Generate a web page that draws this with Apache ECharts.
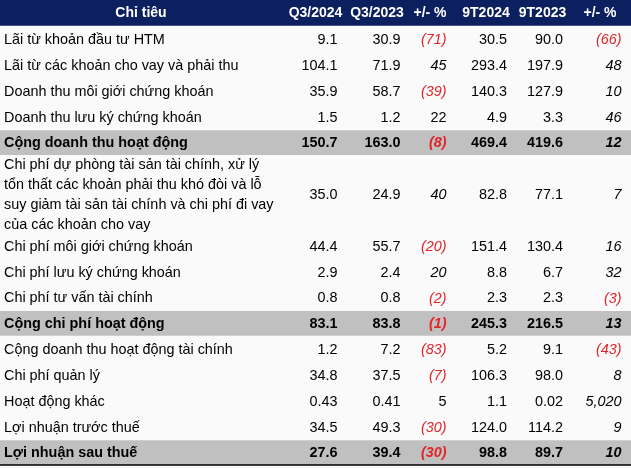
<!DOCTYPE html>
<html><head><meta charset="utf-8">
<script src="https://cdn.jsdelivr.net/npm/echarts@6/dist/echarts.min.js"></script>
<style>html,body{margin:0;padding:0;background:#fafafa}#c{width:631px;height:468px}</style>
</head><body><div id="c"></div>
<script>
// ---- data ----
const headers = ["Chỉ tiêu", "Q3/2024", "Q3/2023", "+/- %", "9T2024", "9T2023", "+/- %"];
const labels = [
  "Lãi từ khoản đầu tư HTM",
  "Lãi từ các khoản cho vay và phải thu",
  "Doanh thu môi giới chứng khoán",
  "Doanh thu lưu ký chứng khoán",
  "Cộng doanh thu hoạt động",
  "Chi phí dự phòng tài sản tài chính, xử lý\ntổn thất các khoản phải thu khó đòi và lỗ\nsuy giảm tài sản tài chính và chi phí đi vay\ncủa các khoản cho vay",
  "Chi phí môi giới chứng khoán",
  "Chi phí lưu ký chứng khoán",
  "Chi phí tư vấn tài chính",
  "Cộng chi phí hoạt động",
  "Cộng doanh thu hoạt động tài chính",
  "Chi phí quản lý",
  "Hoạt động khác",
  "Lợi nhuận trước thuế",
  "Lợi nhuận sau thuế"
];
const q3_2024 = [9.1, 104.1, 35.9, 1.5, 150.7, 35.0, 44.4, 2.9, 0.8, 83.1, 1.2, 34.8, 0.43, 34.5, 27.6];
const q3_2023 = [30.9, 71.9, 58.7, 1.2, 163.0, 24.9, 55.7, 2.4, 0.8, 83.8, 7.2, 37.5, 0.41, 49.3, 39.4];
const pctQ3   = [-71, 45, -39, 22, -8, 40, -20, 20, -2, -1, -83, -7, 5, -30, -30];
const t9_2024 = [30.5, 293.4, 140.3, 4.9, 469.4, 82.8, 151.4, 8.8, 2.3, 245.3, 5.2, 106.3, 1.1, 124.0, 98.8];
const t9_2023 = [90.0, 197.9, 127.9, 3.3, 419.6, 77.1, 130.4, 6.7, 2.3, 216.5, 9.1, 98.0, 0.02, 114.2, 89.7];
const pct9T   = [-66, 48, 10, 46, 12, 7, 16, 32, -3, 13, -43, 8, 5020, 9, 10];
const rowSpans = [1, 1, 1, 1, 1, 3, 1, 1, 1, 1, 1, 1, 1, 1, 1];
const boldRows = [4, 9, 14];
const uprightPct = {"3-2": true, "12-2": true}; // row-col cells printed upright

// ---- layout ----
const W = 631;
const FONT = "'Liberation Sans', Arial, sans-serif";
const headerCenters = [141, 315.5, 377, 430, 486, 542.5, 600];
const valueRights = [337.5, 400.5, 446.5, 507, 563, 621.5];
const textLeft = 4;
const TEXT_SHIFT = 0.055; // row units

function fmtNum(v) {
  const t = v * 10;
  return Math.abs(t - Math.round(t)) < 1e-9 ? v.toFixed(1) : v.toFixed(2);
}
function fmtPct(v) {
  const s = Math.abs(v).toLocaleString('en-US');
  return v < 0 ? "(" + s + ")" : s;
}

const rowStarts = [];
let u = 1;
rowSpans.forEach(s => { rowStarts.push(u); u += s; });
const totalUnits = u;

const bands = [[0, 1, 'header']];
boldRows.forEach(r => bands.push([rowStarts[r], rowSpans[r], 'total']));

const cells = [];
headers.forEach((h, c) => cells.push({ value: [headerCenters[c], 0.5], text: h, align: 'center', color: '#ffffff', weight: 'bold', style: 'normal', size: 14 }));
labels.forEach((lab, r) => {
  const yc = rowStarts[r] + rowSpans[r] / 2 + TEXT_SHIFT;
  const bold = boldRows.includes(r);
  const w = bold ? 'bold' : 'normal';
  cells.push({ value: [textLeft, yc], text: lab, align: 'left', color: '#000', weight: w, style: 'normal', size: 14.4 });
  const cols = [
    [q3_2024[r], false], [q3_2023[r], false], [pctQ3[r], true],
    [t9_2024[r], false], [t9_2023[r], false], [pct9T[r], true]
  ];
  cols.forEach(([v, isPct], c) => {
    let txt, color = '#000', st = 'normal';
    if (isPct) {
      txt = fmtPct(v);
      st = uprightPct[r + '-' + c] ? 'normal' : 'italic';
      if (v < 0) color = '#e0262b';
    } else {
      txt = fmtNum(v);
    }
    cells.push({ value: [valueRights[c], yc], text: txt, align: 'right', color: color, weight: w, style: st, size: 14.4 });
  });
});

const chart = echarts.init(document.getElementById('c'), null, { renderer: 'canvas' });
chart.setOption({
  backgroundColor: '#fafafa',
  animation: false,
  grid: { left: 0, right: 0, top: 0, bottom: 3 },
  xAxis: { type: 'value', min: 0, max: W, show: false },
  yAxis: { type: 'value', min: 0, max: totalUnits, inverse: true, show: false },
  series: [
    {
      type: 'custom', silent: true, clip: false,
      data: bands,
      renderItem: function (params, api) {
        const b = bands[params.dataIndex];
        const p1 = api.coord([0, b[0]]);
        const p2 = api.coord([W, b[0] + b[1]]);
        const inset = b[2] === 'header' ? 0 : 1;
        return {
          type: 'rect',
          shape: { x: p1[0], y: p1[1] + inset, width: p2[0] - p1[0], height: p2[1] - p1[1] - inset },
          style: { fill: b[2] === 'header' ? '#0c1f5e' : '#c0c0c0' }
        };
      }
    },
    {
      type: 'custom', silent: true, clip: false,
      data: [[0, totalUnits]],
      renderItem: function (params, api) {
        const p1 = api.coord([0, totalUnits]);
        const p2 = api.coord([W, totalUnits]);
        return {
          type: 'line',
          shape: { x1: p1[0], y1: p1[1], x2: p2[0], y2: p2[1] },
          style: { stroke: '#000', lineWidth: 1.5 }
        };
      }
    },
    {
      type: 'custom', silent: true, clip: false,
      data: cells.map(c => c.value),
      renderItem: function (params, api) {
        const c = cells[params.dataIndex];
        const p = api.coord(c.value);
        return {
          type: 'text',
          x: p[0], y: p[1],
          style: {
            text: c.text,
            fill: c.color,
            fontFamily: FONT,
            fontSize: c.size,
            fontWeight: c.weight,
            fontStyle: c.style,
            lineHeight: 19.8,
            align: c.align,
            verticalAlign: 'middle'
          }
        };
      }
    }
  ]
});
</script></body></html>
